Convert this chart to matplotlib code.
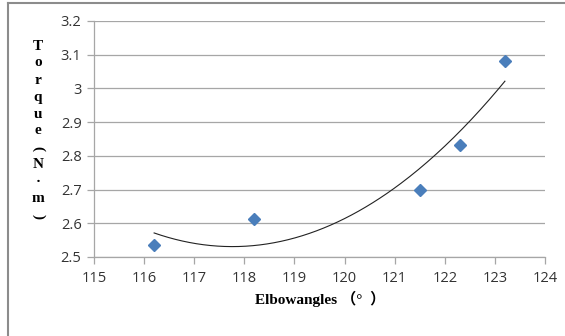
import numpy as np
import matplotlib.pyplot as plt
from matplotlib.lines import Line2D

# Elbow angle (deg) vs torque (N.m)
elbow_angle = [116.2, 118.2, 121.5, 122.3, 123.2]
torque = [2.535, 2.614, 2.698, 2.833, 3.082]

x_ticks = [115, 116, 117, 118, 119, 120, 121, 122, 123, 124]
y_ticks = [2.5, 2.6, 2.7, 2.8, 2.9, 3.0, 3.1, 3.2]
y_tick_labels = ["2.5", "2.6", "2.7", "2.8", "2.9", "3", "3.1", "3.2"]
y_label_chars = ["T", "o", "r", "q", "u", "e", "(", "N", "·", "m", ")"]

W, H = 565, 336
fig = plt.figure(figsize=(W / 100, H / 100), dpi=100)
ax = fig.add_axes([94 / W, 1 - 257 / H, (545 - 94) / W, (257 - 21) / H])

grid_col = "#a6a6a6"
ax.set_xlim(115, 124)
ax.set_ylim(2.5, 3.2)
ax.set_xticks(x_ticks)
ax.set_yticks(y_ticks)
ax.set_yticklabels(y_tick_labels)
ax.yaxis.grid(True, color=grid_col, linewidth=0.9)
ax.set_axisbelow(True)
for s in ["top", "right"]:
    ax.spines[s].set_visible(False)
for s in ["left", "bottom"]:
    ax.spines[s].set_color(grid_col)
    ax.spines[s].set_linewidth(0.9)
ax.tick_params(colors=grid_col, labelcolor="#333333", length=5, width=0.9,
               labelsize=10.5)
for lbl in ax.get_xticklabels() + ax.get_yticklabels():
    lbl.set_family("Open Sans")
ax.tick_params(axis="x", pad=5)
ax.tick_params(axis="y", pad=4)

# quadratic trend line over the data range
coef = np.polyfit(elbow_angle, torque, 2)
xs = np.linspace(min(elbow_angle), max(elbow_angle), 200)
ax.plot(xs, np.polyval(coef, xs), color="#222222", linewidth=0.8)

ax.plot(elbow_angle, torque, linestyle="none", marker="D", markersize=6.5,
        color="#4a7ebb", markeredgecolor="#4a7ebb")

# stacked vertical y label; brackets turned sideways
for i, ch in enumerate(y_label_chars):
    rot = 270 if ch in "()" else 0
    fig.text(38 / W, 1 - (46 + i * 17) / H, ch, ha="center", va="center",
             fontsize=11, fontweight="bold", rotation=rot,
             family="Liberation Serif")

fig.text(320 / W, 1 - 299 / H, "Elbowangles （°  ）", ha="center", va="center",
         fontsize=11, fontweight="bold",
         family=["Liberation Serif", "Noto Sans CJK SC"])

# outer frame
fig.add_artist(Line2D([8 / W, 8 / W], [0, 1 - 3 / H], transform=fig.transFigure,
                      color="#8c8c8c", linewidth=1.5))
fig.add_artist(Line2D([8 / W, 1], [1 - 3 / H, 1 - 3 / H], transform=fig.transFigure,
                      color="#8c8c8c", linewidth=1.5))

fig.savefig("out.png", dpi=100)
